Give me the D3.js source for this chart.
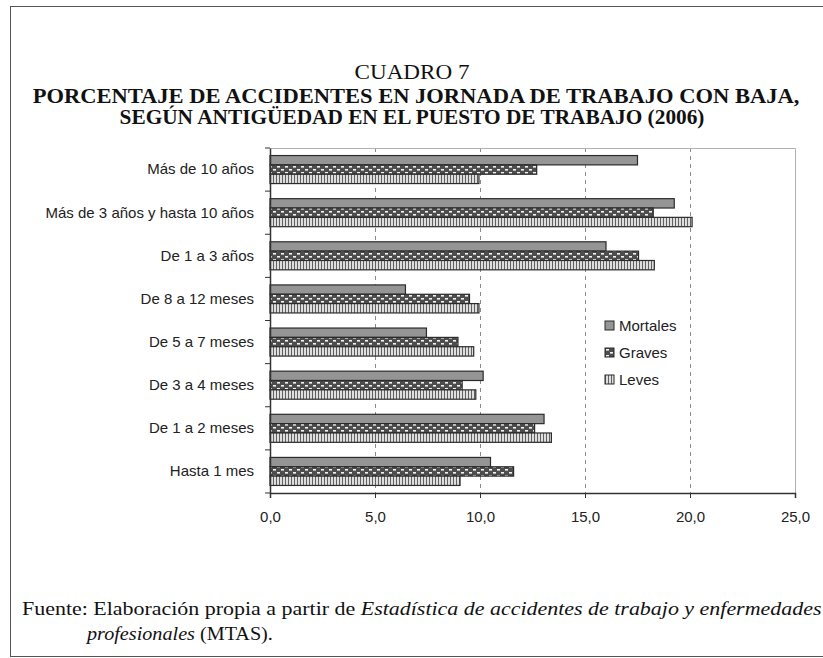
<!DOCTYPE html>
<html><head><meta charset="utf-8">
<script src="https://cdn.jsdelivr.net/npm/d3@7"></script>
<style>body{margin:0;background:#fff}</style>
</head><body>
<script>
const categories = ["Más de 10 años","Más de 3 años y hasta 10 años","De 1 a 3 años","De 8 a 12 meses","De 5 a 7 meses","De 3 a 4 meses","De 1 a 2 meses","Hasta 1 mes"];
const seriesNames = ["Mortales","Graves","Leves"];
const mortales = [17.5,19.25,16.0,6.45,7.45,10.15,13.05,10.5];
const graves   = [12.7,18.25,17.55,9.5,8.95,9.15,12.6,11.6];
const leves    = [9.95,20.1,18.3,9.95,9.7,9.8,13.4,9.05];
const xTicks = [0,5,10,15,20,25];
const seriesValues = [mortales, graves, leves];

const W=823,H=658;
const svg=d3.select("body").append("svg").attr("width",W).attr("height",H);
const defs=svg.append("defs");
// patterns
const pg=defs.append("pattern").attr("id","pGraves").attr("patternUnits","userSpaceOnUse").attr("width",8).attr("height",6);
pg.append("rect").attr("width",8).attr("height",6).attr("fill","#4d4d4d");
pg.append("rect").attr("x",1).attr("y",1).attr("width",3).attr("height",1.6).attr("fill","#f2f2f2");
pg.append("rect").attr("x",5).attr("y",4).attr("width",3).attr("height",1.6).attr("fill","#f2f2f2");
const pl=defs.append("pattern").attr("id","pLeves").attr("patternUnits","userSpaceOnUse").attr("width",3).attr("height",4);
pl.append("rect").attr("width",3).attr("height",4).attr("fill","#dedede");
pl.append("rect").attr("x",0).attr("width",1).attr("height",4).attr("fill","#606060");
const fills=["#959595","url(#pGraves)","url(#pLeves)"];

// outer frame
svg.append("rect").attr("x",10.5).attr("y",6.5).attr("width",830).attr("height",650).attr("fill","none").attr("stroke","#555").attr("stroke-width",1);

const fitText=(sel,cx,y,target)=>{
  const w=sel.node().getComputedTextLength();
  const sx=target/w;
  sel.attr("transform",`translate(${cx},${y}) scale(${sx},1)`);
};
function addText(txt,cx,y,size,weight,target){
  const t=svg.append("text").attr("font-family","'Liberation Serif','Times New Roman',serif")
    .attr("font-size",size).attr("font-weight",weight).attr("text-anchor","middle").attr("fill","#111").text(txt);
  fitText(t,cx,y,target);
  return t;
}
addText("CUADRO 7",412,79,21,"normal",115);
addText("PORCENTAJE DE ACCIDENTES EN JORNADA DE TRABAJO CON BAJA,",416,103,21,"bold",767);
addText("SEGÚN ANTIGÜEDAD EN EL PUESTO DE TRABAJO (2006)",412,124,21,"bold",585);

// footer
const f1=svg.append("text").attr("font-family","'Liberation Serif','Times New Roman',serif").attr("font-size",18).attr("fill","#111");
f1.append("tspan").text("Fuente: Elaboración propia a partir de ");
f1.append("tspan").attr("font-style","italic").text("Estadística de accidentes de trabajo y enfermedades");
fitText(f1,22,615,800);
const f2=svg.append("text").attr("font-family","'Liberation Serif','Times New Roman',serif").attr("font-size",18).attr("fill","#111");
f2.append("tspan").attr("font-style","italic").text("profesionales");
f2.append("tspan").text(" (MTAS).");
fitText(f2,87,640,186);

// chart
const m={l:270,r:795,t:148,b:493};
const x=d3.scaleLinear().domain([0,25]).range([m.l,m.r]);
const y=d3.scaleBand().domain(categories).range([m.t,m.b]).paddingInner(0.35).paddingOuter(0.175);
const ys=d3.scaleBand().domain(seriesNames).range([0,y.bandwidth()]);

const g=svg.append("g");
// grid
g.selectAll("line.grid").data(xTicks.filter(d=>d>0&&d<25)).join("line")
  .attr("x1",d=>Math.round(x(d))+0.5).attr("x2",d=>Math.round(x(d))+0.5).attr("y1",m.t).attr("y2",m.b)
  .attr("stroke","#8a8a8a").attr("stroke-dasharray","4,4").attr("stroke-width",1);
// plot border top/right
g.append("path").attr("d",`M${m.l},${m.t+0.5}H${m.r+0.5}V${m.b}`).attr("fill","none").attr("stroke","#b0b0b0").attr("stroke-width",1);

// bars
categories.forEach((c,i)=>{
  seriesNames.forEach((s,j)=>{
    g.append("rect").attr("x",x(0)).attr("y",y(c)+ys(s)).attr("width",x(seriesValues[j][i])-x(0)).attr("height",ys.bandwidth())
     .attr("fill",fills[j]).attr("stroke","#2b2b2b").attr("stroke-width",1.2);
  });
});

// axes
const font="'Liberation Sans',Arial,sans-serif";
const xAxis=d3.axisBottom(x).tickValues(xTicks).tickSize(5).tickPadding(13).tickFormat(d=>d3.format(".1f")(d).replace(".",","));
const ax=svg.append("g").attr("transform",`translate(0,${m.b})`).call(xAxis);
ax.select(".domain").attr("stroke","#333").attr("stroke-width",1.5);
ax.selectAll(".tick line").attr("stroke","#333");
ax.selectAll("text").attr("font-family",font).attr("font-size",15).attr("fill","#222");

const yAxis=d3.axisLeft(y).tickSize(0).tickPadding(16);
const ay=svg.append("g").attr("transform",`translate(${m.l},0)`).call(yAxis);
ay.select(".domain").attr("stroke","#333").attr("stroke-width",1.5);
ay.selectAll("text").attr("font-family",font).attr("font-size",15).attr("fill","#222");
// band boundary ticks
const bounds=categories.map(c=>y(c)-y.step()*y.paddingInner()/2).concat([m.b]);
ay.selectAll("line.bt").data(bounds).join("line").attr("class","bt")
  .attr("x1",-5).attr("x2",0).attr("y1",d=>d).attr("y2",d=>d).attr("stroke","#333");

// legend
const lg=svg.append("g").attr("transform","translate(605,321)");
seriesNames.forEach((s,j)=>{
  const r=lg.append("g").attr("transform",`translate(0,${j*27})`);
  r.append("rect").attr("width",9).attr("height",9).attr("fill",fills[j]).attr("stroke","#2b2b2b");
  r.append("text").attr("x",14).attr("y",10).attr("font-family",font).attr("font-size",15).attr("fill","#222").text(s);
});
</script>
</body></html>
